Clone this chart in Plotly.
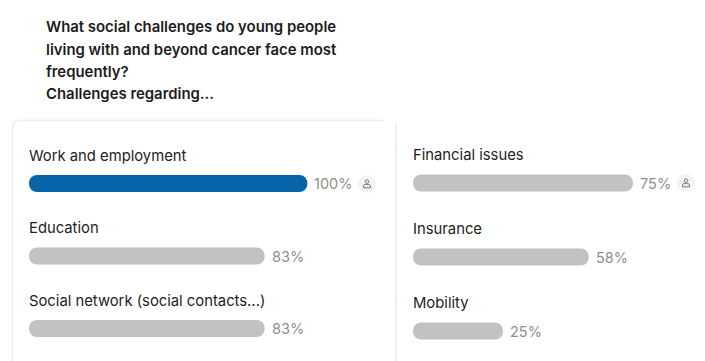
import plotly.graph_objects as go

W, H = 705, 361
title_lines = ["What social challenges do young people",
               "living with and beyond cancer face most",
               "frequently?",
               "Challenges regarding..."]
left_categories = ["Work and employment", "Education", "Social network (social contacts...)"]
left_values = [100, 83, 83]
left_colors = ["#0565a8", "#c2c2c2", "#c2c2c2"]
right_categories = ["Financial issues", "Insurance", "Mobility"]
right_values = [75, 58, 25]
right_colors = ["#c2c2c2", "#c2c2c2", "#c2c2c2"]

# The bars have a minimum stub length: zero sits this many units after the bar start
LEFT_STUB, RIGHT_STUB = 10.9, 9.6

def px(x): return x / W
def py(y): return 1 - y / H

fig = go.Figure()
FONT = "Inter"
TEXT = "#222222"
PCT = "#8f8f8f"

def panel(cats, vals, cols, stub, xa, ya, x0, x1, xscale, y0, step):
    """x0..x1 is the pixel domain of the axis; xscale is pixels per percent."""
    fig.add_trace(go.Bar(
        y=cats, x=[v + stub for v in vals], base=[-stub] * len(vals),
        orientation="h", marker=dict(color=cols, line=dict(width=0)),
        width=17 / step, xaxis=xa, yaxis=ya, hoverinfo="skip", showlegend=False))
    suffix = xa[1:]
    for c, v in zip(cats, vals):
        fig.add_annotation(x=v, xref=xa, y=c, yref=ya, text=f"{v}%", showarrow=False,
                           xanchor="left", yanchor="middle", xshift=5, yshift=0,
                           font=dict(family=FONT, size=14.5, color=PCT))
        fig.add_annotation(x=0, xref=f"x{suffix} domain", y=c, yref=ya,
                           text=c, showarrow=False, xanchor="left", yanchor="middle",
                           yshift=28, xshift=-2,
                           font=dict(family=FONT, size=14.8, color=TEXT))
    rng_lo = -stub
    rng_hi = rng_lo + (x1 - x0) / xscale
    return dict(domain=[px(x0), px(x1)], range=[rng_lo, rng_hi],
                visible=False, fixedrange=True), \
           dict(domain=[0, 1], range=[(H - y0) / step, -y0 / step],
                categoryorder="array", categoryarray=cats,
                visible=False, fixedrange=True)

xa1, ya1 = panel(left_categories, left_values, left_colors, LEFT_STUB, "x", "y",
                 29, 384, 2.51, 183.5, 72.5)
xa2, ya2 = panel(right_categories, right_values, right_colors, RIGHT_STUB, "x2", "y2",
                 413, 700, 2.6, 183, 74)

# question text
for line, y in zip(title_lines, [27, 49.5, 72, 94]):
    fig.add_annotation(x=px(44), xref="paper", y=py(y), yref="paper", text=line,
                       showarrow=False, xanchor="left", yanchor="middle",
                       font=dict(family=FONT, size=14.9, color="#1c1c1c", weight=600))

shapes = []
# left card outline with its rounded corner
shapes.append(dict(type="path", xref="paper", yref="paper", layer="below",
                   path=f"M {px(12.5)} {py(361)} L {px(12.5)} {py(128)} "
                        f"Q {px(12.5)} {py(120.5)} {px(20)} {py(120.5)} L {px(383)} {py(120.5)}",
                   line=dict(color="#eeeeee", width=1.5)))
# right card edge
shapes.append(dict(type="line", xref="paper", yref="paper", layer="below",
                   x0=px(396), x1=px(396), y0=py(124), y1=py(361),
                   line=dict(color="#f0f0f0", width=2)))
# header separator
shapes.append(dict(type="line", xref="paper", yref="paper", layer="below",
                   x0=px(18), x1=px(380), y0=py(118.5), y1=py(118.5),
                   line=dict(color="#f6f6f6", width=1)))

def person_badge(cx, cy):
    shapes.append(dict(type="circle", xref="paper", yref="paper", layer="below",
                       x0=px(cx - 9), x1=px(cx + 9), y0=py(cy + 9), y1=py(cy - 9),
                       fillcolor="#f3f3f3", line=dict(width=0)))
    shapes.append(dict(type="circle", xref="paper", yref="paper", layer="above",
                       x0=px(cx - 1.8), x1=px(cx + 1.8), y0=py(cy - 0.6), y1=py(cy - 4.2),
                       line=dict(color="#777777", width=1)))
    shapes.append(dict(type="path", xref="paper", yref="paper", layer="above",
                       path=f"M {px(cx-3.5)} {py(cy+3.8)} L {px(cx-3.5)} {py(cy+1.8)} "
                            f"Q {px(cx-3.5)} {py(cy+0.6)} {px(cx-1.7)} {py(cy+0.6)} "
                            f"L {px(cx+1.7)} {py(cy+0.6)} Q {px(cx+3.5)} {py(cy+0.6)} {px(cx+3.5)} {py(cy+1.8)} "
                            f"L {px(cx+3.5)} {py(cy+3.8)} Z",
                       line=dict(color="#777777", width=1)))
person_badge(367, 184)
person_badge(686, 183)

fig.update_layout(
    width=W, height=H, margin=dict(l=0, r=0, t=0, b=0),
    paper_bgcolor="white", plot_bgcolor="rgba(0,0,0,0)",
    barcornerradius=8, showlegend=False, shapes=shapes,
    xaxis=xa1, yaxis=ya1, xaxis2=xa2, yaxis2=dict(ya2, anchor="x2"),
)
fig.update_layout(xaxis2=dict(anchor="y2"))
fig.write_html("out.html", config={"displayModeBar": False},
               post_script="document.body.style.margin='0';")
